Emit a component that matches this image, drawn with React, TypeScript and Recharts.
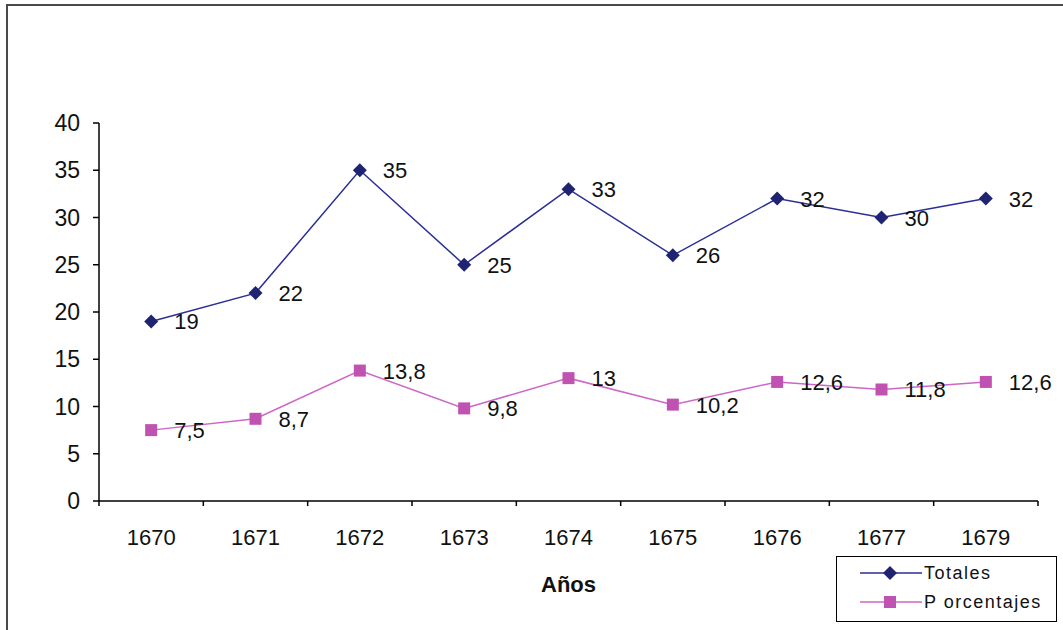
import React from 'react';
import { LineChart, Line, XAxis, YAxis, Legend, Label } from 'recharts';

const years = ['1670', '1671', '1672', '1673', '1674', '1675', '1676', '1677', '1679'];
const totales = [19, 22, 35, 25, 33, 26, 32, 30, 32];
const porcentajes = [7.5, 8.7, 13.8, 9.8, 13, 10.2, 12.6, 11.8, 12.6];
const yTicks = [0, 5, 10, 15, 20, 25, 30, 35, 40];
const seriesNames = ['Totales', 'P orcentajes'];

const data = years.map((y, i) => ({ year: y, totales: totales[i], porcentajes: porcentajes[i] }));

const BLUE_LINE = '#2A2E96';
const BLUE_MARK = '#1E2472';
const PINK_LINE = '#CC66C8';
const PINK_MARK = '#C052B2';
const FONT = '"Liberation Sans", Arial, sans-serif';

const W = 1063;
const H = 630;
const PLOT_LEFT = 99;
const PLOT_RIGHT = 1038;
const HALF_BAND = (PLOT_RIGHT - PLOT_LEFT) / years.length / 2;

const Diamond = (props: any) => {
  const { cx, cy } = props;
  if (cx == null || cy == null) return null;
  const r = 7;
  return <polygon points={`${cx},${cy - r} ${cx + r},${cy} ${cx},${cy + r} ${cx - r},${cy}`} fill={BLUE_MARK} />;
};

const Square = (props: any) => {
  const { cx, cy } = props;
  if (cx == null || cy == null) return null;
  const s = 6;
  return <rect x={cx - s} y={cy - s} width={2 * s} height={2 * s} fill={PINK_MARK} />;
};

const ValueLabel = (props: any) => {
  const { x, y, value } = props;
  return (
    <text x={x + 23} y={y + 8} fontSize={22} fontFamily={FONT} fill="#111" textAnchor="start">
      {String(value).replace('.', ',')}
    </text>
  );
};

const XTick = (props: any) => {
  const { x, y, payload, index } = props;
  return (
    <g>
      <line x1={x - HALF_BAND} y1={y} x2={x - HALF_BAND} y2={y + 5} stroke="#000" strokeWidth={1.5} />
      {index === years.length - 1 && (
        <line x1={x + HALF_BAND} y1={y} x2={x + HALF_BAND} y2={y + 5} stroke="#000" strokeWidth={1.5} />
      )}
      <text x={x} y={y + 44} textAnchor="middle" fontSize={22} fontFamily={FONT} fill="#111">
        {payload.value}
      </text>
    </g>
  );
};

const LegendContent = () => (
  <div style={{ fontFamily: FONT, fontSize: 18, color: '#111', letterSpacing: 1.5 }}>
    {[0, 1].map((i) => (
      <div key={i} style={{ position: 'absolute', left: 23, top: i === 0 ? 6 : 35, height: 20, display: 'flex', alignItems: 'center' }}>
        <svg width={62} height={20} style={{ display: 'block' }}>
          <line x1={0} y1={10} x2={62} y2={10} stroke={i === 0 ? BLUE_LINE : PINK_LINE} strokeWidth={1.5} />
          {i === 0 ? (
            <polygon points="30,3 37,10 30,17 23,10" fill={BLUE_MARK} />
          ) : (
            <rect x={24} y={4} width={12} height={12} fill={PINK_MARK} />
          )}
        </svg>
        <span style={{ marginLeft: 2, whiteSpace: 'pre' }}>{seriesNames[i]}</span>
      </div>
    ))}
  </div>
);

export default function App() {
  return (
    <div style={{ position: 'absolute', left: 0, top: 0, width: W, height: H, overflow: 'hidden', background: '#fff' }}>
      <div style={{ position: 'absolute', left: 6, top: 4, width: 1100, height: 700, border: '2px solid #4a4a4a' }} />
      <LineChart
        width={W}
        height={H}
        data={data}
        margin={{ top: 123, right: W - PLOT_RIGHT, bottom: 38, left: 0 }}
      >
        <XAxis
          dataKey="year"
          padding={{ left: HALF_BAND, right: HALF_BAND }}
          axisLine={{ stroke: '#000', strokeWidth: 1.5 }}
          tickLine={false}
          tickSize={0}
          tickMargin={0}
          height={91}
          tick={<XTick />}
          interval={0}
        >
          <Label value="Años" position="insideBottom" offset={0} fontSize={22} fontWeight="bold" fontFamily={FONT} fill="#111" />
        </XAxis>
        <YAxis
          domain={[0, 40]}
          ticks={yTicks}
          width={PLOT_LEFT}
          axisLine={{ stroke: '#000', strokeWidth: 1.5 }}
          tickLine={{ stroke: '#000', strokeWidth: 1.5 }}
          tickSize={6}
          tickMargin={13}
          tick={{ fontSize: 23, fontFamily: FONT, fill: '#111' }}
          interval={0}
        />
        <Legend
          layout="horizontal"
          verticalAlign="middle"
          align="center"
          content={<LegendContent />}
          wrapperStyle={{ left: 836, top: 556, width: 221, height: 66, border: '1.5px solid #000', boxSizing: 'border-box', background: '#fff' }}
        />
        <Line
          dataKey="totales"
          name="Totales"
          stroke={BLUE_LINE}
          strokeWidth={1.5}
          dot={<Diamond />}
          activeDot={false}
          label={<ValueLabel />}
          isAnimationActive={false}
        />
        <Line
          dataKey="porcentajes"
          name="P orcentajes"
          stroke={PINK_LINE}
          strokeWidth={1.5}
          dot={<Square />}
          activeDot={false}
          label={<ValueLabel />}
          isAnimationActive={false}
        />
      </LineChart>
    </div>
  );
}
